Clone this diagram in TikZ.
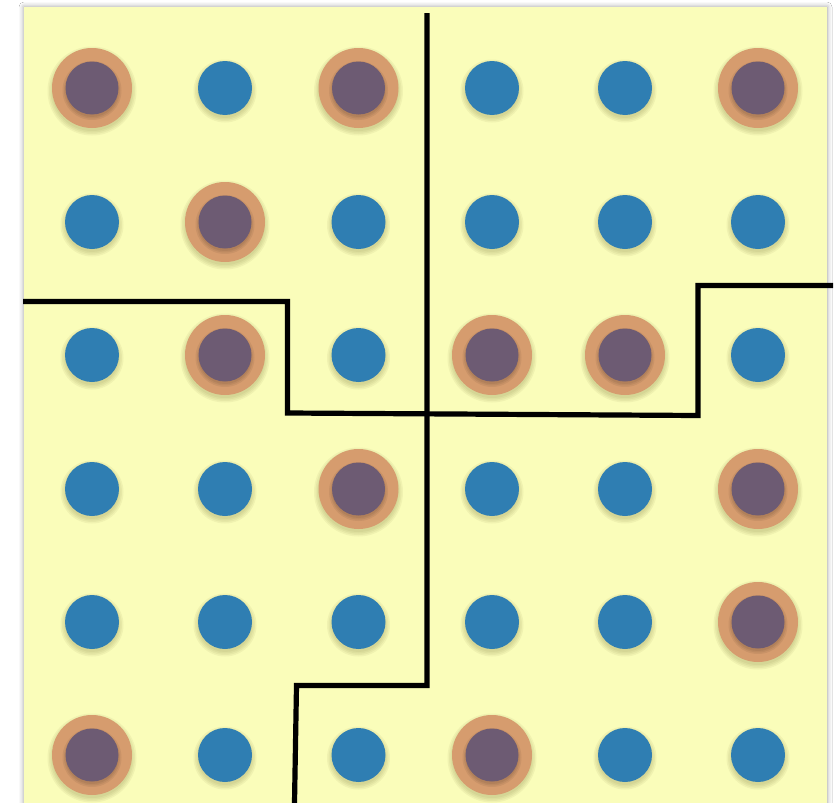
\documentclass[tikz,border=0pt]{standalone}
\usetikzlibrary{shadows.blur}
\definecolor{bgyellow}{HTML}{FAFDBA}
\definecolor{dotblue}{HTML}{2F7EB2}
\definecolor{ringorange}{HTML}{D69C6E}
\definecolor{dotpurple}{HTML}{6D5B73}
\definecolor{shadowcol}{HTML}{6E6A30}
\tikzset{
  plain/.style={circle, fill=dotblue, minimum size=54pt, inner sep=0pt, draw=none},
  ring/.style={circle, fill=ringorange, minimum size=80pt, inner sep=0pt, draw=none},
  core/.style={circle, fill=dotpurple, minimum size=53pt, inner sep=0pt, draw=none},
  softshadow/.style={fill=shadowcol, fill opacity=0.07},
  border/.style={line width=5.2pt, black, line join=miter}
}
\begin{document}
\begin{tikzpicture}[x=1pt, y=-1pt]
\useasboundingbox (0,0) rectangle (838,803);
\fill[white] (0,0) rectangle (838,803);
\fill[bgyellow, blur shadow={shadow xshift=0pt, shadow yshift=0pt, shadow blur radius=5pt, shadow opacity=40}] (24,7) rectangle (827,812);
% grid of dots
\foreach \r/\y in {1/88,2/222,3/355,4/489,5/622,6/755}{
  \foreach \c/\x in {1/92,2/225,3/358.5,4/492,5/625,6/758}{
    \def\isring{0}
    \foreach \p in {11,13,16,22,32,34,35,43,46,56,61,64}{
      \ifnum\p=\r\c\relax\xdef\isring{1}\fi
    }
    \ifnum\isring=1
      \foreach \d in {0,1.5,3,4.5}{\fill[softshadow] (\x,\y+3) circle (40+\d);}
      \node[ring] (r\r\c) at (\x,\y) {};
      \foreach \d in {0,1.5,3}{\fill[fill=black, fill opacity=0.06] (\x,\y+2.5) circle (26.5+\d);}
      \node[core] (c\r\c) at (\x,\y) {};
    \else
      \foreach \d in {0,1.5,3,4.5}{\fill[softshadow] (\x,\y+3) circle (27+\d);}
      \node[plain] (c\r\c) at (\x,\y) {};
    \fi
  }
}
% partition lines
\draw[border] (427,13) -- (427,685.5) -- (296.5,685.5) -- (294.5,803);
\draw[border] (23,301.5) -- (287.5,301.5) -- (287.5,413) -- (698,415.5) -- (698,285.5) -- (833,285.5);
\end{tikzpicture}
\end{document}
